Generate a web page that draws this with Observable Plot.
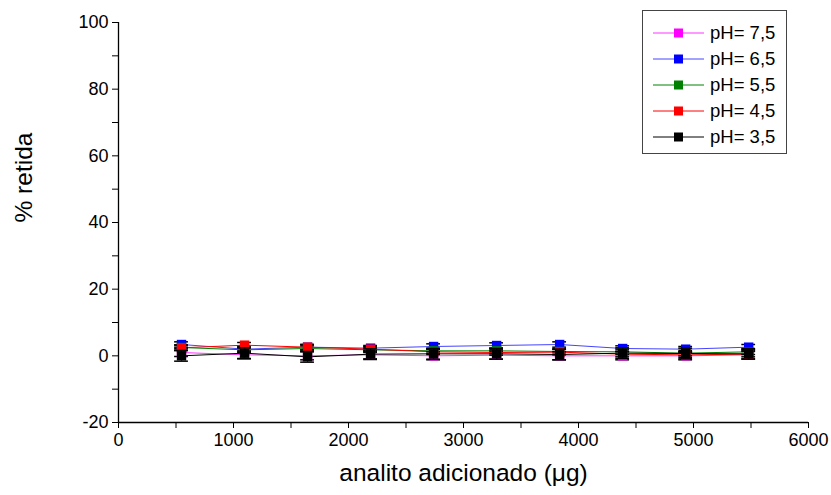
<!DOCTYPE html>
<html>
<head>
<meta charset="utf-8">
<script src="https://cdn.jsdelivr.net/npm/d3@7"></script>
<script src="https://cdn.jsdelivr.net/npm/@observablehq/plot@0.6"></script>
<style>
  body { margin: 0; background: #fff; }
  #wrap { position: relative; width: 831px; height: 495px; font-family: "Liberation Sans", Arial, sans-serif; }
  #legend { position: absolute; left: 642px; top: 10px; width: 145px; height: 144px; border: 1px solid #444; background: #fff; box-sizing: border-box; }
  .row { position: absolute; left: 0; height: 20px; display: flex; align-items: center; }
  .row span { font-size: 18.5px; color: #000; margin-left: 5px; }
</style>
</head>
<body>
<div id="wrap"><div id="chart"></div><div id="legend"></div></div>
<script>
const xValues = [548, 1096, 1644, 2192, 2740, 3288, 3836, 4384, 4932, 5480];
const seriesNames = ["pH= 7,5", "pH= 6,5", "pH= 5,5", "pH= 4,5", "pH= 3,5"];
const seriesColors = ["#ff00ff", "#0000ff", "#008000", "#ff0000", "#000000"];
const lineColors = ["#ff33ff", "#4444ff", "#008000", "#ff0000", "#000000"];
const pH75 = [1.0, 0.3, 0.0, 0.3, 0.0, 0.2, 0.0, 0.0, 0.0, 0.3];
const pH65 = [3.4, 2.0, 2.6, 2.3, 2.8, 3.1, 3.4, 2.2, 2.0, 2.6];
const pH55 = [2.5, 1.8, 2.2, 1.8, 1.5, 1.5, 1.3, 1.2, 0.8, 1.2];
const pH45 = [2.4, 3.2, 2.6, 2.0, 1.2, 1.0, 1.1, 0.5, 0.3, 0.5];
const pH35 = [0.0, 0.8, -0.3, 0.5, 0.6, 0.6, 0.4, 0.8, 0.7, 0.6];
const errors = [1.2, 0.8, 0.8, 0.8, 1.6];
const xTicks = [0, 1000, 2000, 3000, 4000, 5000, 6000];
const yTicks = [-20, 0, 20, 40, 60, 80, 100];

const allSeries = [pH75, pH65, pH55, pH45, pH35];
const data = [];
allSeries.forEach((vals, si) => vals.forEach((v, i) => data.push({x: xValues[i], y: v, s: seriesNames[si], e: errors[si]})));
const order = [0, 1, 2, 3, 4];

const capHalf = 60;
const marks = [
  Plot.axisX({ticks: d3.range(0, 6001, 500), tickFormat: d => xTicks.includes(d) ? String(d) : "", tickSize: 6, tickPadding: 5, fontSize: 18, label: null}),
  Plot.axisY({ticks: d3.range(-20, 101, 10), tickFormat: d => yTicks.includes(d) ? String(d) : "", tickSize: 6, tickPadding: 4, fontSize: 18, label: null}),
  Plot.ruleY([-20], {stroke: "#000", strokeWidth: 1.3}),
  Plot.ruleX([0], {stroke: "#000", strokeWidth: 1.3}),
];
for (const si of order) {
  const d = data.filter(r => r.s === seriesNames[si]);
  marks.push(Plot.line(d, {x: "x", y: "y", stroke: lineColors[si], strokeWidth: 1}));
}
for (const si of order) {
  const d = data.filter(r => r.s === seriesNames[si]);
  marks.push(Plot.ruleX(d, {x: "x", y1: r => r.y - r.e, y2: r => r.y + r.e, stroke: "#000", strokeWidth: 1.2}));
  marks.push(Plot.ruleY(d, {y: r => r.y - r.e, x1: r => r.x - capHalf, x2: r => r.x + capHalf, stroke: "#000", strokeWidth: 1.5}));
  marks.push(Plot.ruleY(d, {y: r => r.y + r.e, x1: r => r.x - capHalf, x2: r => r.x + capHalf, stroke: "#000", strokeWidth: 1.5}));
  marks.push(Plot.dot(d, {x: "x", y: "y", symbol: "square", r: 5.3, fill: seriesColors[si], stroke: "none"}));
}

const chart = Plot.plot({
  width: 831,
  height: 495,
  marginLeft: 118,
  marginRight: 23,
  marginTop: 22,
  marginBottom: 73,
  style: {fontFamily: "'Liberation Sans', Arial, sans-serif", fontSize: "18px", color: "#000", background: "#fff"},
  x: {domain: [0, 6000]},
  y: {domain: [-20, 100]},
  marks: [
    ...marks,
    Plot.text(["analito adicionado (μg)"], {frameAnchor: "bottom", dy: 58, fontSize: 24.5, fill: "#000"}),
    Plot.text(["% retida"], {frameAnchor: "left", dx: -94, rotate: -90, fontSize: 24.5, fill: "#000"})
  ]
});
document.getElementById("chart").appendChild(chart);

const legend = document.getElementById("legend");
const rowCenters = [22, 48, 74, 100, 126];
seriesNames.forEach((name, i) => {
  const row = document.createElement("div");
  row.className = "row";
  row.style.top = (rowCenters[i] - 10) + "px";
  row.innerHTML = `<svg width="62" height="20"><line x1="10" x2="61" y1="10" y2="10" stroke="${lineColors[i]}" stroke-width="1"/><rect x="31" y="5.5" width="9" height="9" fill="${seriesColors[i]}"/></svg><span>${name}</span>`;
  legend.appendChild(row);
});
</script>
</body>
</html>
